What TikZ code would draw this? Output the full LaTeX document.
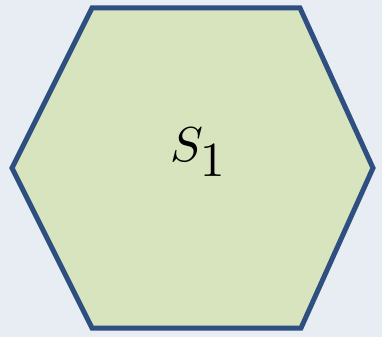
\documentclass[tikz,border=0pt]{standalone}
\usepackage{graphicx}
\usepackage{xcolor}
\definecolor{bgc}{HTML}{E8EDF3}
\definecolor{hexfill}{HTML}{D7E4BD}
\definecolor{hexline}{HTML}{2F4F80}
\begin{document}
\begin{tikzpicture}[x=1pt,y=-1pt,
  hexstyle/.style={fill=hexfill,draw=hexline,line width=5pt,line join=miter},
  lbl/.style={inner sep=0pt}]
\fill[bgc] (0,0) rectangle (382,337);
\useasboundingbox (0,0) rectangle (382,337);
\draw[hexstyle] (92,8) -- (300,8) -- (373,168) -- (301,328) -- (92,328) -- (12,168) -- cycle;
\node[lbl] (s1) at (199,152) {\scalebox{4.9}{$S_{\textstyle 1}$}};
\end{tikzpicture}
\end{document}
